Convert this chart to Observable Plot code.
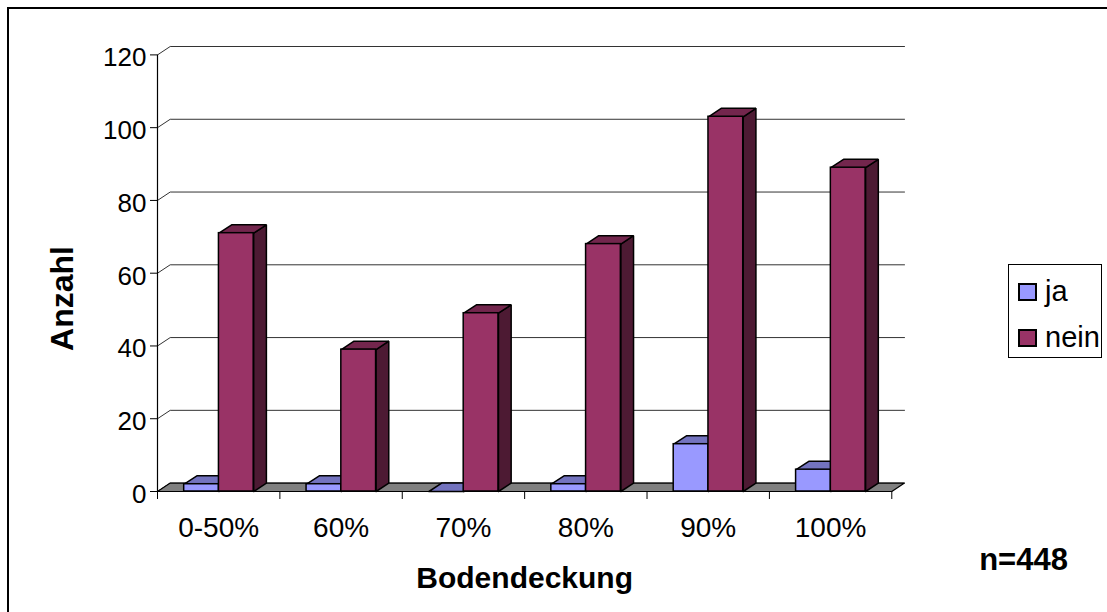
<!DOCTYPE html>
<html><head><meta charset="utf-8">
<script src="https://cdn.jsdelivr.net/npm/d3@7"></script>
<script src="https://cdn.jsdelivr.net/npm/@observablehq/plot@0.6"></script>
<style>
html,body{margin:0;padding:0;background:#fff;overflow:hidden;}
#wrap{position:relative;width:1107px;height:612px;font-family:"Liberation Sans",Arial,sans-serif;}
#border{position:absolute;left:7px;top:7px;width:1200px;height:700px;border:2px solid #000;pointer-events:none;}
#legend{position:absolute;left:1008px;top:264px;width:92px;height:92px;border:1px solid #000;background:#fff;}
.item{position:absolute;left:9px;height:32px;font-size:29px;line-height:32px;}
.sw{position:absolute;left:0;top:8px;width:15px;height:14px;border:2px solid #000;}
.lbl{position:absolute;left:27px;top:0;white-space:nowrap;}
</style></head>
<body><div id="wrap"><div id="chart"></div><div id="legend"></div><div id="border"></div></div>
<script>
const categories = ["0-50%", "60%", "70%", "80%", "90%", "100%"];
const series = ["ja", "nein"];
const jaValues = [2, 2, 0, 2, 13, 6];
const neinValues = [71, 39, 49, 68, 103, 89];
const yTicks = [0, 20, 40, 60, 80, 100, 120];
const frontColors = {ja: "#9999ff", nein: "#993366"};
const topColors = {ja: "#7373bf", nein: "#73264d"};
const sideColors = {ja: "#4d4d80", nein: "#4d1a33"};
const xLabel = "Bodendeckung";
const yLabel = "Anzahl";
const note = "n=448";

// 3D depth in data units
const DX = 0.1038, DY = 2.309;
const barOffset = 0.218, barWidth = 0.284;
const nCat = categories.length;

const bars = [];
series.forEach((s, si) => {
  const vals = si === 0 ? jaValues : neinValues;
  categories.forEach((c, i) => {
    const x1 = i + barOffset + si * barWidth;
    bars.push({series: s, category: c, value: vals[i], x1, x2: x1 + barWidth});
  });
});
const poly = (id, pts) => pts.map(([x, y]) => ({id, x, y}));
const topFace = b => poly(b.series + b.category, [[b.x1, b.value], [b.x2, b.value], [b.x2 + DX, b.value + DY], [b.x1 + DX, b.value + DY], [b.x1, b.value]]);
const sideFace = b => poly(b.series + b.category, [[b.x2, 0], [b.x2 + DX, DY], [b.x2 + DX, b.value + DY], [b.x2, b.value], [b.x2, 0]]);

const grid = yTicks.flatMap(t => poly(t, [[0, t], [DX, t + DY], [nCat + DX, t + DY]]));
const floor = poly("floor", [[0, 0], [nCat, 0], [nCat + DX, DY], [DX, DY], [0, 0]]);

const barMarks = series.flatMap(s => {
  const bs = bars.filter(b => b.series === s);
  return [
    Plot.line(bs.flatMap(sideFace), {x: "x", y: "y", z: "id", fill: sideColors[s], stroke: "#000", strokeWidth: 1.5, strokeLinejoin: "miter"}),
    Plot.line(bs.flatMap(topFace), {x: "x", y: "y", z: "id", fill: topColors[s], stroke: "#000", strokeWidth: 1.5, strokeLinejoin: "miter"}),
    Plot.rect(bs, {x1: "x1", x2: "x2", y1: 0, y2: "value", fill: frontColors[s], stroke: "#000", strokeWidth: 1.5})
  ];
});

const chart = Plot.plot({
  width: 1107, height: 612,
  marginLeft: 157, marginRight: 203, marginTop: 46, marginBottom: 121,
  style: {fontFamily: "'Liberation Sans', Arial, sans-serif", background: "transparent", color: "#000"},
  x: {domain: [0, nCat + DX], label: null},
  y: {domain: [0, 120 + DY], label: null},
  marks: [
    Plot.line(grid, {x: "x", y: "y", z: "id", stroke: "#333", strokeWidth: 1, strokeLinejoin: "miter"}),
    Plot.line(floor, {x: "x", y: "y", fill: "#808080", stroke: "#000", strokeWidth: 1.2, strokeLinejoin: "miter"}),
    Plot.ruleX([0], {y1: 0, y2: 120, stroke: "#000", strokeWidth: 1.2}),
    ...barMarks,
    Plot.axisY({ticks: yTicks, tickSize: 7, fill: "none", stroke: "#000", label: null}),
    Plot.axisY({ticks: yTicks, tickSize: 0, tickPadding: 11, stroke: "none", fontSize: 26, dy: 3, label: null}),
    Plot.axisX({ticks: d3.range(nCat + 1), tickSize: 8, fill: "none", stroke: "#000", label: null}),
    Plot.axisX({ticks: categories.map((c, i) => i + 0.5), tickSize: 0, tickPadding: 26, stroke: "none", fontSize: 28, tickFormat: d => categories[Math.floor(d)], label: null}),
    Plot.text([yLabel], {frameAnchor: "left", text: d => d, rotate: -90, textAnchor: "middle", lineAnchor: "bottom", dx: -85, dy: 29.5, fontSize: 32, fontWeight: "bold"}),
    Plot.text([xLabel], {x: [nCat / 2], frameAnchor: "bottom", text: d => d, textAnchor: "middle", lineAnchor: "bottom", dy: 96, fontSize: 30, fontWeight: "bold"}),
    Plot.text([note], {frameAnchor: "bottom-right", text: d => d, textAnchor: "middle", lineAnchor: "bottom", dx: 119, dy: 78, fontSize: 31, fontWeight: "bold"})
  ]
});
document.getElementById("chart").appendChild(chart);

const legend = document.getElementById("legend");
series.forEach((s, i) => {
  const item = document.createElement("div");
  item.className = "item";
  item.style.top = (10 + i * 46) + "px";
  item.innerHTML = `<span class="sw" style="background:${frontColors[s]}"></span><span class="lbl">${s}</span>`;
  legend.appendChild(item);
});
</script></body></html>
